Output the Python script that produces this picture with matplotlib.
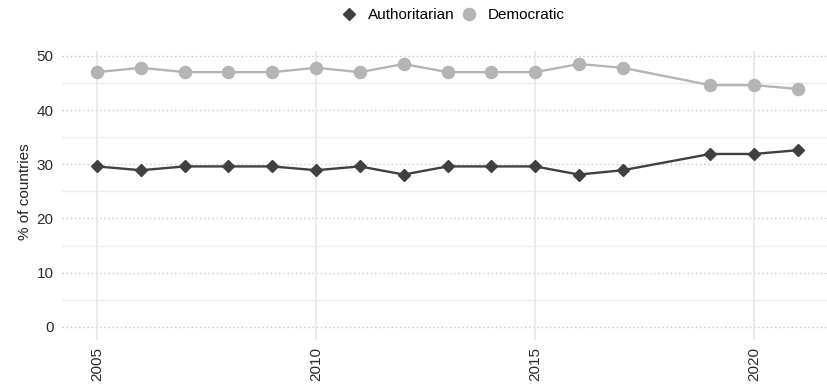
import matplotlib
matplotlib.use("Agg")
import matplotlib.pyplot as plt
from matplotlib.lines import Line2D

years = [2005, 2006, 2007, 2008, 2009, 2010, 2011, 2012, 2013, 2014, 2015, 2016, 2017, 2019, 2020, 2021]
authoritarian = [29.6, 28.9, 29.6, 29.6, 29.6, 28.9, 29.6, 28.1, 29.6, 29.6, 29.6, 28.1, 28.9, 31.9, 31.9, 32.6]
democratic = [47.0, 47.8, 47.0, 47.0, 47.0, 47.8, 47.0, 48.5, 47.0, 47.0, 47.0, 48.5, 47.8, 44.6, 44.6, 43.9]
series_names = ["Authoritarian", "Democratic"]
x_ticks = [2005, 2010, 2015, 2020]
y_ticks = [0, 10, 20, 30, 40, 50]
y_minor = [5, 15, 25, 35, 45]
y_label = "% of countries"

plt.rcParams['font.family'] = ['Liberation Sans', 'DejaVu Sans']

W, H = 828, 385
fig = plt.figure(figsize=(W / 100, H / 100), dpi=100)
left, right, bottom, top = 62, 833, 340, 51
ax = fig.add_axes([left / W, 1 - bottom / H, (right - left) / W, (bottom - top) / H])

auth_c = "#404040"
dem_c = "#b4b4b6"

ax.set_xlim(2004.2, 2021.8)
ax.set_ylim(-2.43, 50.9)

# grid
for y in y_ticks:
    ax.axhline(y, color="#c8c8c8", lw=1.0, ls=(0, (1, 2)), zorder=0)
for y in y_minor:
    ax.axhline(y, color="#ececec", lw=1.0, zorder=0)
for x in x_ticks:
    ax.axvline(x, color="#e6e6e6", lw=1.2, zorder=0)

ax.plot(years, democratic, color=dem_c, lw=1.7, marker="o", ms=8.7,
        mfc=dem_c, mec=dem_c, zorder=3)
ax.plot(years, authoritarian, color=auth_c, lw=1.7, marker="D", ms=6.3,
        mfc=auth_c, mec=auth_c, zorder=3)

ax.set_xticks(x_ticks)
ax.set_xticklabels([str(x) for x in x_ticks], rotation=90, fontsize=11, color="#2a2a2a")
ax.set_yticks(y_ticks)
ax.set_yticklabels([str(y) for y in y_ticks], fontsize=11, color="#2a2a2a")
ax.tick_params(axis="both", length=0)
ax.tick_params(axis="x", pad=5)
ax.tick_params(axis="y", pad=6)
for s in ax.spines.values():
    s.set_visible(False)

fig.text(25 / W, 1 - 192 / H, y_label, rotation=90, ha="center", va="center",
         fontsize=11, color="#222222")

handles = [
    Line2D([], [], color=auth_c, marker="D", ms=6.3, ls="none"),
    Line2D([], [], color=dem_c, marker="o", ms=8.7, ls="none"),
]
fig.legend(handles, series_names, loc="center", bbox_to_anchor=(453 / W, 1 - 15 / H),
           ncol=2, frameon=False, fontsize=11, handlelength=1.0, handletextpad=0.75,
           columnspacing=0.45, borderpad=0)

fig.savefig("out.png", dpi=100, facecolor="white")
